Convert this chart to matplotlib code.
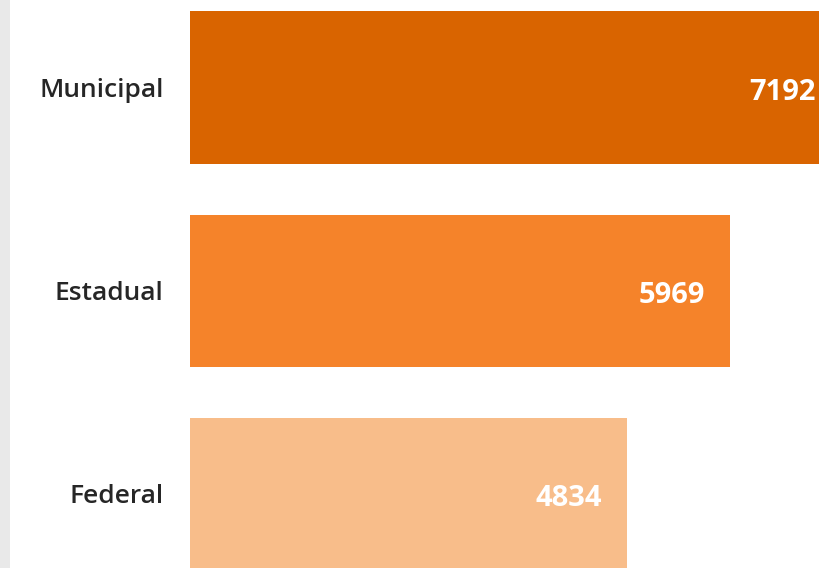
import matplotlib.pyplot as plt
from matplotlib.patches import Rectangle
from matplotlib.transforms import ScaledTranslation

categories = ["Federal", "Estadual", "Municipal"]
values = [4834, 5969, 7192]
colours = ["#F8BD8A", "#F5832A", "#D96400"]

fig = plt.figure(figsize=(8.19, 5.68), dpi=100)
ax = fig.add_axes([190 / 819, 0, 1 - 190 / 819, 1])

# grey strip on the far left
fig.patches.append(Rectangle((0, 0), 10 / 819, 1, transform=fig.transFigure,
                             facecolor="#e9e9e9", edgecolor="none"))

ypos = list(range(len(categories)))
ax.barh(ypos, values, height=0.75, color=colours)

for y, v in zip(ypos, values):
    ax.annotate(str(v), xy=(v, y), xytext=(-18, -3.5), textcoords="offset points",
                ha="right", va="center", color="white", fontsize=21,
                fontweight="bold", family="Open Sans", annotation_clip=False)

ax.set_xlim(0, 6953)
ax.set_ylim(-0.365, 2.431)
ax.set_yticks(ypos)
ax.set_yticklabels(categories, fontsize=19, color="#262626",
                   fontweight="semibold", family="Open Sans")
shift = ScaledTranslation(0, -3 / 72, fig.dpi_scale_trans)
for lbl in ax.get_yticklabels():
    lbl.set_transform(lbl.get_transform() + shift)
ax.tick_params(axis="y", length=0, pad=19)
ax.set_xticks([])
for s in ax.spines.values():
    s.set_visible(False)

fig.savefig("out.png", dpi=100)
